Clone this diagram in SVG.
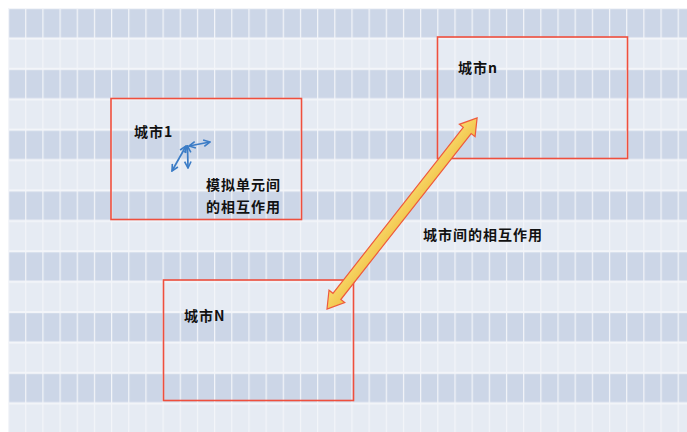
<svg xmlns="http://www.w3.org/2000/svg" width="687" height="432" viewBox="0 0 687 432">
<defs>
<pattern id="grid" x="8" y="8" width="17.17" height="60.8" patternUnits="userSpaceOnUse">
<rect x="0" y="0" width="17.17" height="60.8" fill="#f3f5f9"/>
<rect x="1.2" y="1.2" width="15.97" height="28.2" fill="#ccd6e7"/>
<rect x="1.2" y="31.6" width="15.97" height="28.2" fill="#e6ebf3"/>
</pattern>
<linearGradient id="ag" x1="0" y1="-10" x2="0" y2="10" gradientUnits="userSpaceOnUse">
<stop offset="0" stop-color="#f9d86a"/>
<stop offset="1" stop-color="#f0c44a"/>
</linearGradient>
<marker id="bh" viewBox="0 0 10 10" refX="9" refY="5" markerWidth="8" markerHeight="8" markerUnits="userSpaceOnUse" orient="auto-start-reverse">
<path d="M1,1 L9,5 L1,9" fill="none" stroke="#3b7cc6" stroke-width="2"/>
</marker>
</defs>
<style>
.city{fill:none;stroke:#ef4f3d;stroke-width:1.6}
.t{font-family:"Noto Sans CJK SC","Noto Sans",sans-serif;font-size:14px;font-weight:bold;fill:#111;letter-spacing:1px}
.ba{stroke:#3b7cc6;stroke-width:1.7;fill:none;marker-start:url(#bh);marker-end:url(#bh)}
</style>
<rect x="0" y="0" width="687" height="432" fill="#ffffff"/>
<rect x="8" y="8" width="679" height="424" fill="url(#grid)"/>
<g id="city1">
<rect class="city" x="111" y="98.5" width="190.5" height="121"/>
<text class="t" x="134" y="137">城市1</text>
<text class="t" x="206" y="190">模拟单元间</text>
<text class="t" x="206" y="212">的相互作用</text>
</g>
<g id="cityn">
<rect class="city" x="437.5" y="37" width="190" height="121.5"/>
<text class="t" x="458" y="73">城市n</text>
</g>
<g id="cityN">
<rect class="city" x="163.5" y="280" width="190" height="120.5"/>
<text class="t" x="184" y="321">城市N</text>
</g>
<g id="connectors">
<line class="ba" x1="189" y1="146" x2="210" y2="142"/>
<line class="ba" x1="187.5" y1="146" x2="188" y2="168"/>
<line class="ba" x1="186" y1="146" x2="172" y2="171"/>
<g transform="translate(327,309) rotate(-51.85)">
<polygon points="0,0 16,-10 16,-5 227,-5 227,-10 243,0 227,10 227,5 16,5 16,10" fill="url(#ag)" stroke="#ef5a3c" stroke-width="1.2" stroke-linejoin="miter"/>
</g>
<text class="t" x="423" y="240">城市间的相互作用</text>
</g>
</svg>
